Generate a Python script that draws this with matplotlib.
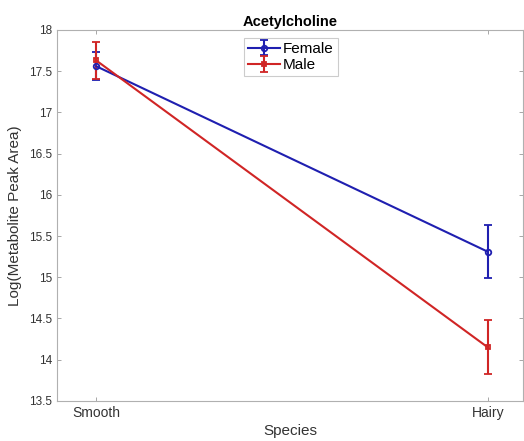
import numpy as np
from matplotlib import pyplot as plt

plt.rcParams['font.family'] = ['Liberation Sans', 'DejaVu Sans']

species = ['Smooth', 'Hairy']
female_mean = [17.56, 15.31]
female_err = [0.17, 0.32]
male_mean = [17.63, 14.15]
male_err = [0.22, 0.33]

x = np.arange(1, len(species) + 1)

fig = plt.figure(figsize=(5.24, 4.41), dpi=100)
ax = fig.add_axes([0.109, 0.091, 0.889, 0.841])

ax.errorbar(x, female_mean, yerr=female_err, color='#1f1fb0', marker='o', ms=4,
            mfc='none', mew=1.3, lw=1.5, capsize=3, elinewidth=1.5, label='Female')
ax.errorbar(x, male_mean, yerr=male_err, color='#d02525', marker='s', ms=3.5,
            mfc='none', mew=1.3, lw=1.5, capsize=3, elinewidth=1.5, label='Male')

ax.set_xlim(0.9, 2.09)
ax.set_ylim(13.5, 18)
ax.set_xticks(x)
ax.set_xticklabels(species)
ax.set_yticks(np.arange(13.5, 18.01, 0.5))
ax.set_yticklabels(['13.5', '14', '14.5', '15', '15.5', '16', '16.5', '17', '17.5', '18'])
ax.tick_params(direction='in', top=True, right=True, length=3, width=0.6,
               colors='#999999', labelcolor='#333333', labelsize=8.5)
ax.tick_params(axis='x', labelsize=10)
for s in ax.spines.values():
    s.set_color('#b0b0b0')
    s.set_linewidth(0.8)

ax.set_title('Acetylcholine', fontsize=10.5, fontweight='bold', pad=3)
ax.set_xlabel('Species', fontsize=11, color='#333333', labelpad=3)
ax.set_ylabel('Log(Metabolite Peak Area)', fontsize=11, color='#333333', labelpad=5)

leg = ax.legend(loc='upper center', bbox_to_anchor=(0.502, 0.99), fontsize=11,
                frameon=True, fancybox=False, edgecolor='#c0c0c0', handlelength=2.1,
                handletextpad=0.2, borderpad=0.25, labelspacing=0.15, borderaxespad=0.3)
leg.get_frame().set_linewidth(0.8)

fig.savefig('out.png', dpi=100)
